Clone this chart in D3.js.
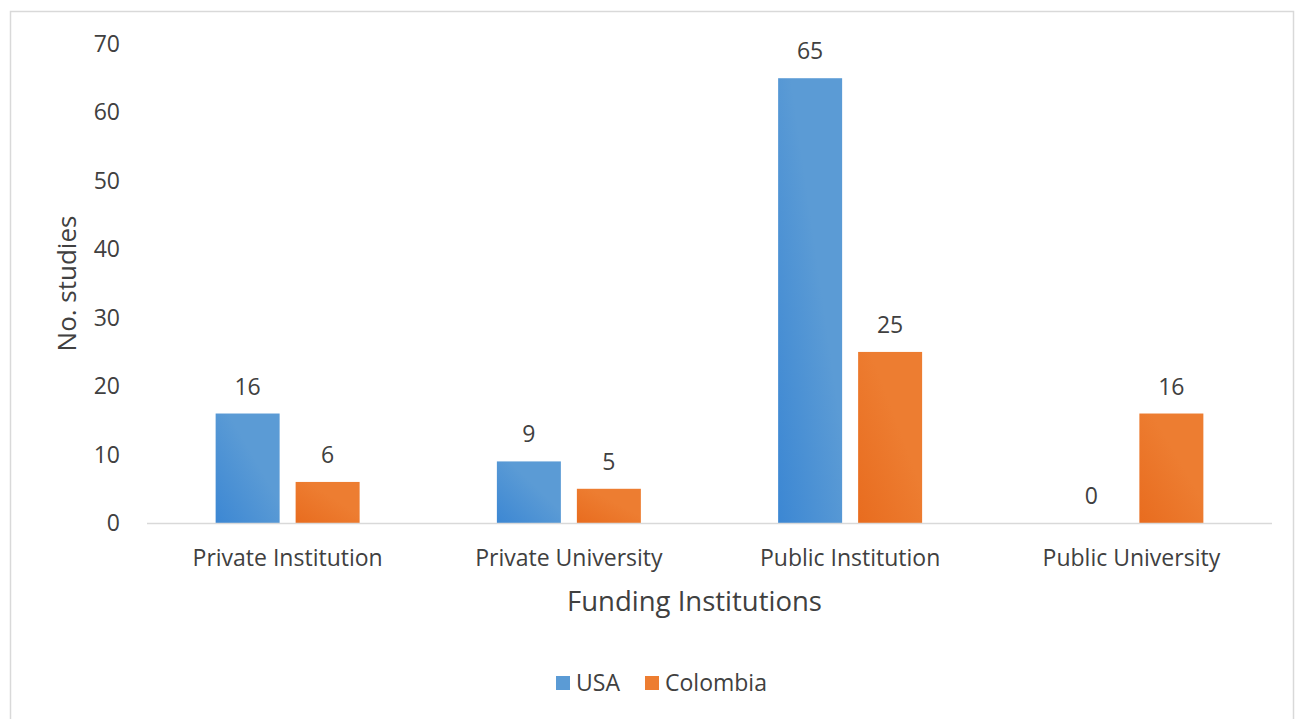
<!DOCTYPE html>
<html>
<head>
<meta charset="utf-8">
<script src="https://cdn.jsdelivr.net/npm/d3@7"></script>
<style>
body { margin: 0; background: #fff; }
text { font-family: "Open Sans", "Noto Sans", sans-serif; fill: #404040; }
</style>
</head>
<body>
<script>
var categories = ["Private Institution", "Private University", "Public Institution", "Public University"];
var seriesNames = ["USA", "Colombia"];
var usaValues = [16, 9, 65, 0];
var colombiaValues = [6, 5, 25, 16];
var yTicks = [0, 10, 20, 30, 40, 50, 60, 70];

var colors = { "USA": "#5b9bd5", "Colombia": "#ed7d31" };
var darkColors = { "USA": "#3c87d3", "Colombia": "#e86c1f" };

var W = 1296, H = 719;
var svg = d3.select("body").append("svg")
    .attr("width", W)
    .attr("height", H);

// gradients like the office chart
var defs = svg.append("defs");
seriesNames.forEach(function (s, i) {
    var gr = defs.append("linearGradient")
        .attr("id", "grad" + i)
        .attr("x1", "0").attr("y1", "1")
        .attr("x2", "0.6").attr("y2", "0.4");
    gr.append("stop").attr("offset", "0").attr("stop-color", darkColors[s]);
    gr.append("stop").attr("offset", "1").attr("stop-color", colors[s]);
});

// outer frame
svg.append("rect")
    .attr("x", 10.5).attr("y", 11.5)
    .attr("width", 1283).attr("height", 720)
    .attr("fill", "none")
    .attr("stroke", "#d9d9d9")
    .attr("stroke-width", 1.5);

var pLeft = 147, pRight = 1272, pTop = 44, pBottom = 523;

var y = d3.scaleLinear().domain([0, 70]).range([pBottom, pTop]);
var x0 = d3.scaleBand().domain(categories).range([pLeft, pRight]).padding(0);
var x1 = d3.scaleBand().domain(seriesNames).range([0, x0.bandwidth()])
    .paddingInner(0.2).paddingOuter(0.858);

// y tick labels
svg.append("g").selectAll("text")
    .data(yTicks)
    .enter().append("text")
    .attr("x", 120)
    .attr("y", function (d) { return y(d); })
    .attr("dy", "0.35em")
    .attr("text-anchor", "end")
    .attr("font-size", 23)
    .text(function (d) { return d; });

// bars
var data = categories.map(function (c, i) {
    return { cat: c, vals: [{ s: "USA", v: usaValues[i] }, { s: "Colombia", v: colombiaValues[i] }] };
});

var groups = svg.append("g").selectAll("g")
    .data(data)
    .enter().append("g")
    .attr("transform", function (d) { return "translate(" + x0(d.cat) + ",0)"; });

groups.selectAll("rect")
    .data(function (d) { return d.vals; })
    .enter().append("rect")
    .attr("x", function (d) { return x1(d.s); })
    .attr("y", function (d) { return y(d.v); })
    .attr("width", x1.bandwidth())
    .attr("height", function (d) { return pBottom - y(d.v); })
    .attr("fill", function (d) { return "url(#grad" + seriesNames.indexOf(d.s) + ")"; });

groups.selectAll("text")
    .data(function (d) { return d.vals; })
    .enter().append("text")
    .attr("x", function (d) { return x1(d.s) + x1.bandwidth() / 2; })
    .attr("y", function (d) { return y(d.v) - 19; })
    .attr("text-anchor", "middle")
    .attr("font-size", 23)
    .text(function (d) { return d.v; });

// x axis line
svg.append("line")
    .attr("x1", pLeft).attr("x2", pRight)
    .attr("y1", pBottom + 0.5).attr("y2", pBottom + 0.5)
    .attr("stroke", "#d9d9d9")
    .attr("stroke-width", 1.5);

// category labels
svg.append("g").selectAll("text")
    .data(categories)
    .enter().append("text")
    .attr("x", function (d) { return x0(d) + x0.bandwidth() / 2; })
    .attr("y", 566)
    .attr("text-anchor", "middle")
    .attr("font-size", 23)
    .text(function (d) { return d; });

// axis titles
svg.append("text")
    .attr("x", (pLeft + pRight) / 2 - 15)
    .attr("y", 611)
    .attr("text-anchor", "middle")
    .attr("font-size", 27.5)
    .text("Funding Institutions");

svg.append("text")
    .attr("transform", "translate(76," + ((pTop + pBottom) / 2) + ") rotate(-90)")
    .attr("text-anchor", "middle")
    .attr("font-size", 26)
    .text("No. studies");

// legend
var legendX = [556, 645];
var lg = svg.append("g").selectAll("g")
    .data(seriesNames)
    .enter().append("g")
    .attr("transform", function (d, i) { return "translate(" + legendX[i] + ",676)"; });
lg.append("rect")
    .attr("width", 14).attr("height", 14)
    .attr("fill", function (d) { return colors[d]; });
lg.append("text")
    .attr("x", 20)
    .attr("y", 7)
    .attr("dy", "0.35em")
    .attr("font-size", 23)
    .text(function (d) { return d; });
</script>
</body>
</html>
